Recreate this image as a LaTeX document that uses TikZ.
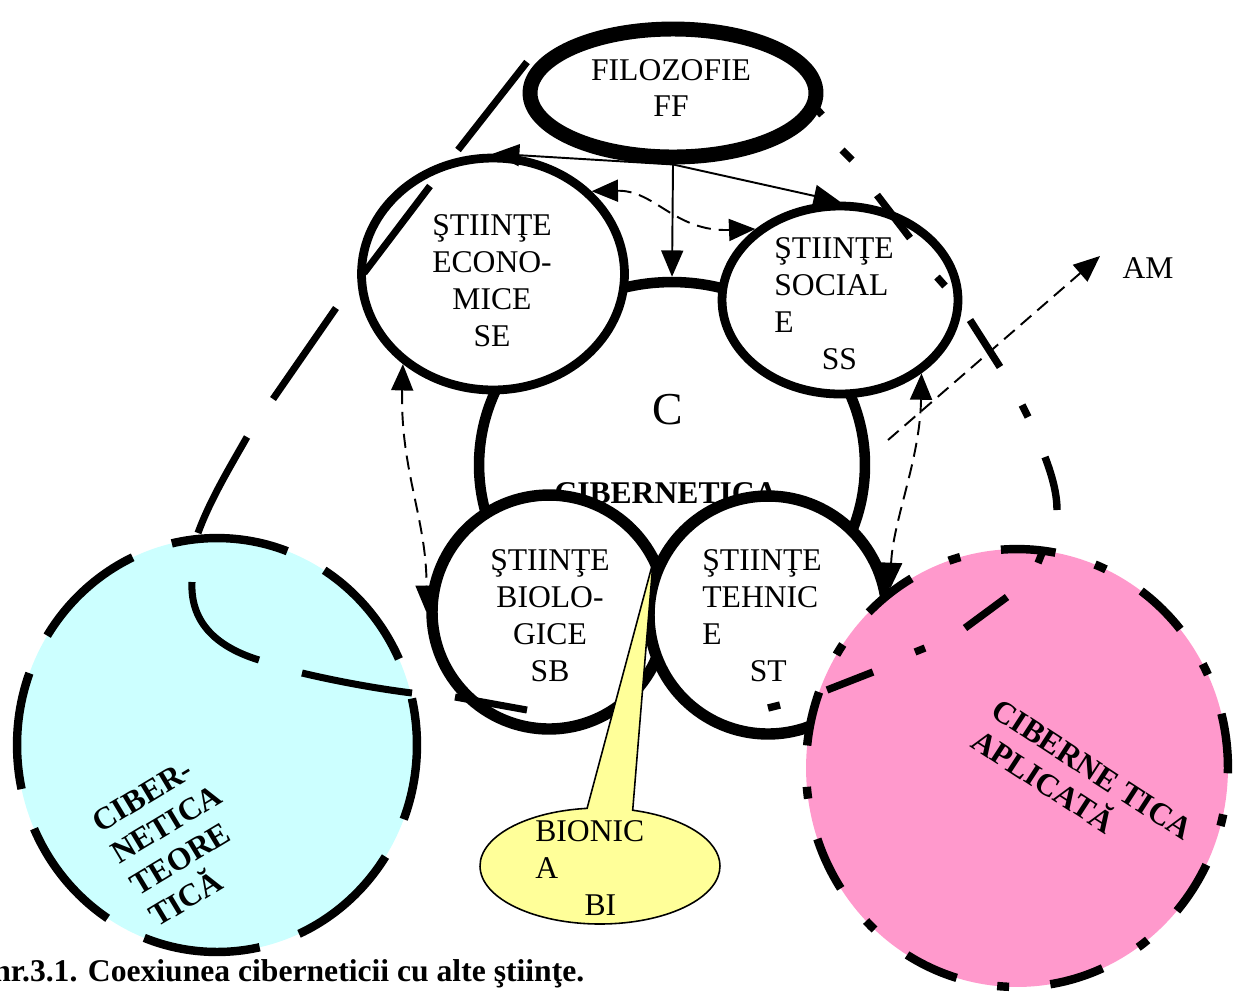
\documentclass[tikz,border=0pt]{standalone}
\usepackage{fontspec}
\setmainfont{Liberation Serif}
\usetikzlibrary{shapes.geometric,shapes.callouts,arrows.meta}

\definecolor{theorycyan}{HTML}{CCFFFF}
\definecolor{appliedpink}{HTML}{FF99CC}
\definecolor{bionicyellow}{HTML}{FFFF99}

\begin{document}
\begin{tikzpicture}[x=0.02cm,y=-0.02cm,
  txt/.style={font=\fontsize{18}{21}\selectfont, inner sep=0pt},
  btxt/.style={font=\fontsize{18}{21}\selectfont\bfseries, inner sep=0pt},
  field/.style={ellipse, draw, fill=white, inner sep=0pt},
  tip/.style={arrows={-Triangle[length=15pt,width=12.5pt]}},
  dtip/.style={arrows={Triangle[length=15pt,width=12.5pt]-Triangle[length=15pt,width=12.5pt]}},
  link/.style={line width=1.1pt},
  dlink/.style={line width=1.1pt, dash pattern=on 8pt off 4.5pt},
  theorydash/.style={line width=4pt, line cap=butt},
  applydash/.style={line width=4.2pt, line cap=butt},
  cyberfield/.style={ellipse, draw, line width=4.8pt, inner sep=0pt},
]
\useasboundingbox (0,0) rectangle (1246,995);

% central field: cybernetics
\node[field, line width=6pt, minimum width=7.72cm, minimum height=7.32cm] (C) at (672,465) {};
\node[txt, font=\fontsize{26}{30}\selectfont] (Cletter) at (668,410) {C};
\node[btxt, anchor=base] (Cname) at (666,503) {CIBERNETICA};

% neighbouring sciences
\node[field, line width=5pt, minimum width=5.26cm, minimum height=4.64cm] (SE) at (493,274) {};
\node[field, line width=5pt, minimum width=4.72cm, minimum height=3.76cm] (SS) at (840,300) {};
\node[field, line width=6.5pt, minimum width=4.68cm, minimum height=4.68cm] (SB) at (549,612) {};
\node[field, line width=6.5pt, minimum width=4.76cm, minimum height=4.76cm] (ST) at (768,615) {};
\node[field, line width=8.5pt, minimum width=5.72cm, minimum height=2.56cm] (FF) at (673,93) {};

% influence of philosophy
\draw[link,tip] (FF.south) -- (C.north);
\draw[link,tip] (FF.south) -- (SE.north);
\draw[link,tip] (FF.south) -- (SS.north);

% mutual exchanges
\draw[dlink,dtip] (SE.40) .. controls (655,190) and (675,232) .. (SS.140);
\draw[dlink,dtip] (SE.225) .. controls (400,470) and (427,520) .. (SB.west);
\draw[dlink,dtip] (SS.318) .. controls (920,460) and (893,520) .. (ST.12);

% other fields
\coordinate (amfrom) at (888,440);
\coordinate (amto) at (1100,256);
\node[txt] (AM) at (1148,268) {AM};
\draw[dlink,tip] (amfrom) -- (amto);

% theoretical and applied cybernetics
\node[cyberfield, fill=theorycyan, minimum width=8cm, minimum height=8.28cm,
      dash pattern=on 66.9pt off 23.7pt, dash phase=40.2pt] (CT) at (217,745) {};
\node[cyberfield, fill=appliedpink, minimum width=8.44cm, minimum height=8.76cm,
      dash pattern=on 31.2pt off 23.55pt on 6.8pt off 23.55pt, dash phase=0pt] (CA) at (1017,768) {};
\node[btxt, align=left, rotate=31] (CTtext) at (176,840) {CIBER-\\NETICA\\TEORE\\TICĂ};
\node[btxt, align=left, rotate=-33] (CAtext) at (1082,785) {CIBERNE TICA\\APLICATĂ};

% bionics callout
\node[ellipse callout, draw, fill=bionicyellow, line width=0.9pt, inner sep=0pt,
      minimum width=4.8cm, minimum height=2.32cm,
      callout absolute pointer={(653,562)}, callout pointer arc=22] (BI) at (600,866) {};
\node[txt, align=left, anchor=west] (BItext) at (535,868) {BIONIC\\A\\\hspace*{28pt}BI};

% labels of the sciences
\node[txt, align=center] (FFtext) at (671,88) {FILOZOFIE\\FF};
\node[txt, align=center] (SEtext) at (492,281) {ŞTIINŢE\\ECONO-\\MICE\\SE};
\node[txt, align=left, anchor=west] (SStext) at (774,304) {ŞTIINŢE\\SOCIAL\\E\\\hspace*{27pt}SS};
\node[txt, align=center] (SBtext) at (550,616) {ŞTIINŢE\\BIOLO-\\GICE\\SB};
\node[txt, align=left, anchor=west] (STtext) at (702,616) {ŞTIINŢE\\TEHNIC\\E\\\hspace*{27pt}ST};

% boundary of theoretical cybernetics (long dashes)
\draw[theorydash] (527,62) -- (458,150);
\draw[theorydash] (430,186) -- (364,273);
\draw[theorydash] (336,308) -- (273,399);
\draw[theorydash] (247,437) .. controls (230,467) and (210,500) .. (198,533);
\draw[theorydash] (192,582) .. controls (190,625) and (220,648) .. (259,660);
\draw[theorydash] (302,673) .. controls (340,682) and (380,689) .. (412,693);
\draw[theorydash] (455,697) -- (527,710);

% boundary of applied cybernetics (dash-dot)
\draw[applydash] (815,107) -- (822,115);
\draw[applydash] (842,150) -- (852,160);
\draw[applydash] (877,195) -- (910,238);
\draw[applydash] (937,277) -- (945,286);
\draw[applydash] (970,320) -- (1000,367);
\draw[applydash] (1022,405) -- (1028,417);
\draw[applydash] (1045,457) .. controls (1053,478) and (1057,495) .. (1057,510);
\draw[applydash] (1042,553) -- (1038,563);
\draw[applydash] (1007,597) -- (965,628);
\draw[applydash] (925,648) -- (915,652);
\draw[applydash] (873,672) -- (827,690);
\draw[applydash] (780,705) -- (768,708);

% caption
\node[btxt, anchor=base west] (caption) at (-7,981) {nr.3.1. Coexiunea ciberneticii cu alte ştiinţe.};
\end{tikzpicture}
\end{document}
